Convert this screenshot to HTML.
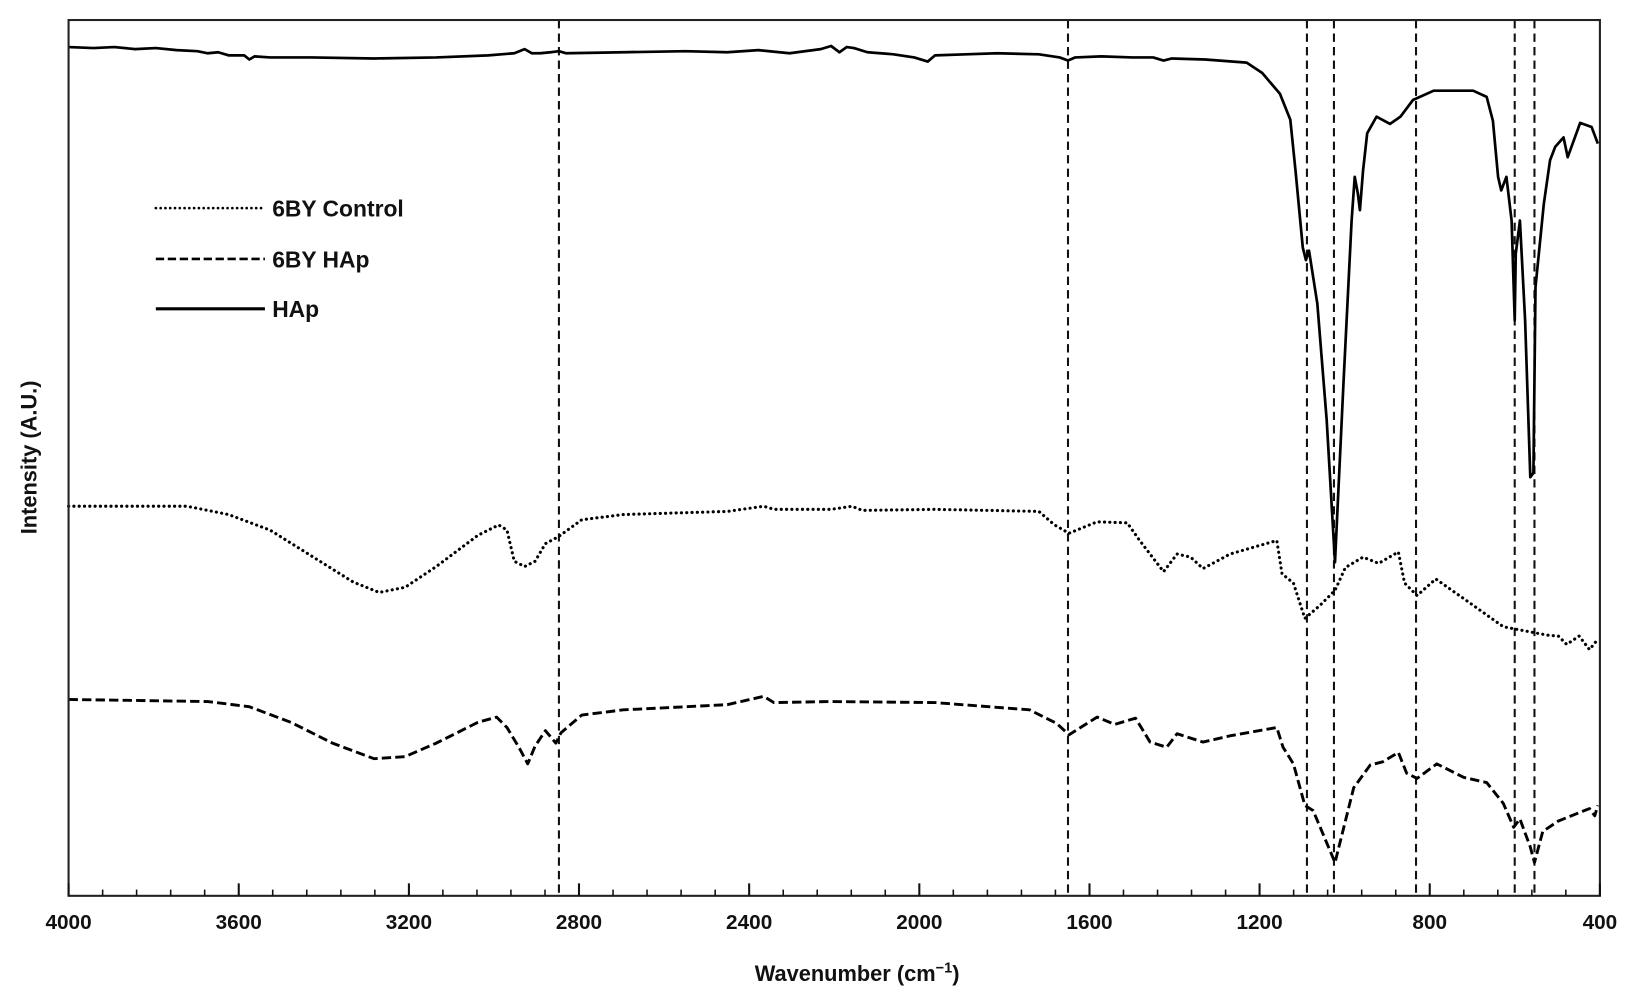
<!DOCTYPE html>
<html><head><meta charset="utf-8"><style>
html,body{margin:0;padding:0;background:#fff;}
svg{display:block;}
text{font-family:"Liberation Sans",Arial,sans-serif;font-weight:bold;fill:#111;}
</style></head><body>
<svg width="1629" height="1000" viewBox="0 0 1568 962" xmlns="http://www.w3.org/2000/svg">
<rect x="0" y="0" width="1568" height="962" fill="#fff"/>
<g stroke="#111" stroke-width="2" stroke-dasharray="8,5" fill="none">
<line x1="538" y1="19" x2="538" y2="862"/>
<line x1="1028" y1="19" x2="1028" y2="862"/>
<line x1="1258" y1="19" x2="1258" y2="862"/>
<line x1="1284" y1="19" x2="1284" y2="862"/>
<line x1="1363" y1="19" x2="1363" y2="862"/>
<line x1="1458" y1="19" x2="1458" y2="862"/>
<line x1="1477" y1="19" x2="1477" y2="862"/>
</g>
<polyline fill="none" stroke="#000" stroke-width="2.6" stroke-linejoin="round" points="66,45 90,46 110,45 130,47 150,46 170,48 190,49 200,51 210,50 220,53 235,53 240,57 245,54 260,55 300,55 360,56 420,55 470,53 495,51 505,47 512,51 520,51 530,50 538,49 545,51 600,50 660,49 700,50 730,48 760,51 790,47 800,44 808,50 815,45 822,46 835,50 860,52 880,55 893,59 900,53 930,52 960,51 1000,52 1020,55 1028,58 1035,55 1060,54 1090,55 1110,55 1120,58 1128,56 1160,57 1200,60 1215,70 1232,90 1242,115 1247,164 1254,238 1257,250 1260,241 1268,292 1277,404 1285,541 1293,372 1301,212 1304,170 1307,186 1309,202 1312,164 1316,128 1325,112 1338,119 1348,112 1360,96 1380,87 1418,87 1431,93 1437,116 1442,170 1445,183 1450,170 1455,212 1458,308 1459,244 1463,212 1468,308 1473,459 1476,455 1478,276 1486,196 1492,154 1497,141 1505,132 1509,151 1521,118 1532,122 1538,138"/>
<polyline fill="none" stroke="#000" stroke-width="3" stroke-linecap="round" stroke-dasharray="0.1,5" stroke-linejoin="round" points="66,487 180,487 220,495 260,510 300,535 340,560 365,570 390,565 420,545 460,515 480,505 488,510 495,540 505,545 515,540 525,523 538,516 560,500 600,495 700,492 735,487 745,490 800,490 820,487 830,491 900,490 1000,492 1015,505 1029,513 1056,502 1085,503 1097,520 1120,550 1133,533 1146,536 1158,547 1184,533 1229,520 1234,552 1245,561 1256,595 1271,582 1285,568 1295,546 1312,536 1327,542 1346,531 1352,561 1364,573 1382,557 1409,576 1447,603 1489,611 1500,612 1508,620 1520,612 1530,625 1538,615"/>
<polyline fill="none" stroke="#000" stroke-width="2.8" stroke-dasharray="9,4" stroke-linejoin="round" points="66,673 200,675 240,680 280,695 320,715 360,730 390,728 420,715 460,695 478,690 488,700 500,720 508,735 515,718 525,703 535,715 540,705 560,688 600,683 700,678 735,670 745,676 800,675 900,676 991,683 1017,696 1029,707 1056,690 1073,697 1093,691 1107,714 1123,719 1133,706 1158,714 1184,708 1229,700 1235,719 1245,735 1256,775 1264,780 1280,818 1285,830 1292,802 1303,758 1319,736 1331,733 1346,724 1354,744 1364,749 1383,735 1409,748 1431,753 1447,773 1457,796 1463,788 1473,815 1477,830 1485,800 1500,790 1520,782 1530,778 1535,785 1538,775"/>
<rect x="66" y="19" width="1474" height="843" fill="none" stroke="#222" stroke-width="2"/>
<g stroke="#111" stroke-width="2">
<line x1="66" y1="862" x2="66" y2="850"/><line x1="229.8" y1="862" x2="229.8" y2="850"/><line x1="393.6" y1="862" x2="393.6" y2="850"/><line x1="557.3" y1="862" x2="557.3" y2="850"/><line x1="721.1" y1="862" x2="721.1" y2="850"/><line x1="884.9" y1="862" x2="884.9" y2="850"/><line x1="1048.7" y1="862" x2="1048.7" y2="850"/><line x1="1212.4" y1="862" x2="1212.4" y2="850"/><line x1="1376.2" y1="862" x2="1376.2" y2="850"/><line x1="1540" y1="862" x2="1540" y2="850"/>
</g>
<g stroke="#111" stroke-width="1.5">
<line x1="98.8" y1="862" x2="98.8" y2="856"/><line x1="131.5" y1="862" x2="131.5" y2="856"/><line x1="164.3" y1="862" x2="164.3" y2="856"/><line x1="197" y1="862" x2="197" y2="856"/>
<line x1="262.5" y1="862" x2="262.5" y2="856"/><line x1="295.3" y1="862" x2="295.3" y2="856"/><line x1="328.1" y1="862" x2="328.1" y2="856"/><line x1="360.8" y1="862" x2="360.8" y2="856"/>
<line x1="426.3" y1="862" x2="426.3" y2="856"/><line x1="459.1" y1="862" x2="459.1" y2="856"/><line x1="491.8" y1="862" x2="491.8" y2="856"/><line x1="524.6" y1="862" x2="524.6" y2="856"/>
<line x1="590.1" y1="862" x2="590.1" y2="856"/><line x1="622.8" y1="862" x2="622.8" y2="856"/><line x1="655.6" y1="862" x2="655.6" y2="856"/><line x1="688.4" y1="862" x2="688.4" y2="856"/>
<line x1="753.9" y1="862" x2="753.9" y2="856"/><line x1="786.6" y1="862" x2="786.6" y2="856"/><line x1="819.4" y1="862" x2="819.4" y2="856"/><line x1="852.1" y1="862" x2="852.1" y2="856"/>
<line x1="917.6" y1="862" x2="917.6" y2="856"/><line x1="950.4" y1="862" x2="950.4" y2="856"/><line x1="983.2" y1="862" x2="983.2" y2="856"/><line x1="1015.9" y1="862" x2="1015.9" y2="856"/>
<line x1="1081.4" y1="862" x2="1081.4" y2="856"/><line x1="1114.2" y1="862" x2="1114.2" y2="856"/><line x1="1146.9" y1="862" x2="1146.9" y2="856"/><line x1="1179.7" y1="862" x2="1179.7" y2="856"/>
<line x1="1245.2" y1="862" x2="1245.2" y2="856"/><line x1="1277.9" y1="862" x2="1277.9" y2="856"/><line x1="1310.7" y1="862" x2="1310.7" y2="856"/><line x1="1343.5" y1="862" x2="1343.5" y2="856"/>
<line x1="1409" y1="862" x2="1409" y2="856"/><line x1="1441.7" y1="862" x2="1441.7" y2="856"/><line x1="1474.5" y1="862" x2="1474.5" y2="856"/><line x1="1507.2" y1="862" x2="1507.2" y2="856"/>
</g>
<g font-size="20" text-anchor="middle">
<text x="66" y="894">4000</text><text x="229.8" y="894">3600</text><text x="393.6" y="894">3200</text><text x="557.3" y="894">2800</text><text x="721.1" y="894">2400</text><text x="884.9" y="894">2000</text><text x="1048.7" y="894">1600</text><text x="1212.4" y="894">1200</text><text x="1376.2" y="894">800</text><text x="1540" y="894">400</text>
</g>
<text x="825" y="944" font-size="21" text-anchor="middle">Wavenumber (cm<tspan font-size="14" dy="-8">−1</tspan><tspan dy="8">)</tspan></text>
<text transform="translate(35,440) rotate(-90)" font-size="21" text-anchor="middle">Intensity (A.U.)</text>
<line x1="150" y1="200" x2="255" y2="200" stroke="#000" stroke-width="2.5" stroke-linecap="round" stroke-dasharray="0.1,4.5"/>
<line x1="150" y1="249" x2="255" y2="249" stroke="#000" stroke-width="2.5" stroke-dasharray="8,3.5"/>
<line x1="150" y1="297" x2="255" y2="297" stroke="#000" stroke-width="3"/>
<g font-size="22">
<text x="262" y="208">6BY Control</text>
<text x="262" y="257">6BY HAp</text>
<text x="262" y="305">HAp</text>
</g>
</svg>
</body></html>
